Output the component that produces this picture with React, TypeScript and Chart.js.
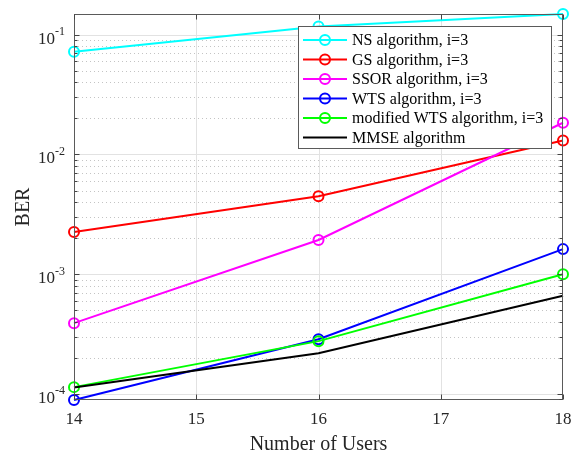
import React, { useEffect, useRef } from "react";
import { Chart, registerables } from "chart.js";

Chart.register(...registerables);

// Number of users on the x axis
const users = [14, 16, 18];

// Bit error rate per detector
const nsBer = [0.0722, 0.117, 0.149];
const gsBer = [0.00225, 0.00447, 0.0131];
const ssorBer = [0.00039, 0.00193, 0.0184];
const wtsBer = [0.000089, 0.000286, 0.00162];
const modWtsBer = [0.000114, 0.000276, 0.001];
const mmseBer = [0.000113, 0.000219, 0.00066];

const seriesLabels = [
  "NS algorithm, i=3",
  "GS algorithm, i=3",
  "SSOR algorithm, i=3",
  "WTS algorithm, i=3",
  "modified WTS algorithm, i=3",
  "MMSE algorithm",
];
const seriesColors = ["#00ffff", "#ff0000", "#ff00ff", "#0000ff", "#00ff00", "#000000"];
const seriesMarkers = [true, true, true, true, true, false];

const xTicks = [14, 15, 16, 17, 18];
const xMin = 14;
const xMax = 18;
const yMin = 8.9e-5;
const yMax = 0.149;
const yDecades = [-4, -3, -2, -1];

const serif = "'Liberation Serif', 'Times New Roman', serif";
const axisColor = "#262626";

const axesPlugin = {
  id: "boxedAxes",
  beforeDatasetsDraw(chart: any) {
    const { ctx, chartArea: a, scales } = chart;
    const xs = scales.x;
    const ys = scales.y;
    ctx.save();
    ctx.lineWidth = 1;

    // minor grid: dotted
    ctx.strokeStyle = "#c4c4c4";
    ctx.setLineDash([1, 3]);
    for (let d = -5; d <= 0; d++) {
      for (let m = 2; m <= 9; m++) {
        const v = m * Math.pow(10, d);
        if (v <= yMin || v >= yMax) continue;
        const py = Math.round(ys.getPixelForValue(v)) + 0.5;
        ctx.beginPath();
        ctx.moveTo(a.left, py);
        ctx.lineTo(a.right, py);
        ctx.stroke();
      }
    }

    // major grid: solid
    ctx.setLineDash([]);
    ctx.strokeStyle = "#e2e2e2";
    yDecades.forEach((d) => {
      const py = Math.round(ys.getPixelForValue(Math.pow(10, d))) + 0.5;
      ctx.beginPath();
      ctx.moveTo(a.left, py);
      ctx.lineTo(a.right, py);
      ctx.stroke();
    });
    xTicks.forEach((t) => {
      if (t === xMin || t === xMax) return;
      const px = Math.round(xs.getPixelForValue(t)) + 0.5;
      ctx.beginPath();
      ctx.moveTo(px, a.top);
      ctx.lineTo(px, a.bottom);
      ctx.stroke();
    });
    ctx.restore();
  },
  afterDatasetsDraw(chart: any) {
    const { ctx, chartArea: a, scales } = chart;
    const xs = scales.x;
    const ys = scales.y;
    ctx.save();

    // axes box
    ctx.strokeStyle = "#5a5a5a";
    ctx.lineWidth = 1;
    const L = Math.round(a.left) + 0.5;
    const R = Math.round(a.right) - 0.5;
    const T = Math.round(a.top) + 0.5;
    const B = Math.round(a.bottom) - 0.5;
    ctx.strokeRect(L, T, R - L, B - T);

    // y tick marks (inward, both sides)
    ctx.strokeStyle = "#444";
    for (let d = -5; d <= 0; d++) {
      for (let m = 1; m <= 9; m++) {
        const v = m * Math.pow(10, d);
        if (v <= yMin || v >= yMax) continue;
        const len = m === 1 ? 5 : 3;
        const py = Math.round(ys.getPixelForValue(v)) + 0.5;
        ctx.beginPath();
        ctx.moveTo(L, py);
        ctx.lineTo(L + len, py);
        ctx.moveTo(R, py);
        ctx.lineTo(R - len, py);
        ctx.stroke();
      }
    }
    // x tick marks (inward, top and bottom)
    xTicks.forEach((t) => {
      const px = Math.round(xs.getPixelForValue(t)) + 0.5;
      ctx.beginPath();
      ctx.moveTo(px, B);
      ctx.lineTo(px, B - 5);
      ctx.moveTo(px, T);
      ctx.lineTo(px, T + 5);
      ctx.stroke();
    });

    // x tick labels
    ctx.fillStyle = axisColor;
    ctx.font = `17px ${serif}`;
    ctx.textAlign = "center";
    ctx.textBaseline = "alphabetic";
    xTicks.forEach((t) => {
      ctx.fillText(String(t), xs.getPixelForValue(t), a.bottom + 24);
    });

    // y tick labels: 10 with superscript exponent
    yDecades.forEach((d) => {
      const py = ys.getPixelForValue(Math.pow(10, d));
      ctx.font = `17px ${serif}`;
      ctx.textAlign = "right";
      ctx.fillText("10", a.left - 19, py + 9);
      ctx.font = `12px ${serif}`;
      ctx.textAlign = "left";
      ctx.fillText(String(d), a.left - 19, py + 0.5);
    });

    // axis titles
    ctx.font = `20px ${serif}`;
    ctx.textAlign = "center";
    ctx.fillText("Number of Users", (a.left + a.right) / 2, a.bottom + 50);
    ctx.save();
    ctx.translate(29, (a.top + a.bottom) / 2);
    ctx.rotate(-Math.PI / 2);
    ctx.fillText("BER", 0, 0);
    ctx.restore();

    // legend
    const lx = 298.5;
    const ly = 26.5;
    const lw = 253;
    const lh = 122;
    ctx.fillStyle = "#ffffff";
    ctx.fillRect(lx, ly, lw, lh);
    ctx.strokeStyle = "#5a5a5a";
    ctx.lineWidth = 1;
    ctx.strokeRect(lx, ly, lw, lh);
    ctx.font = `16px ${serif}`;
    ctx.textAlign = "left";
    seriesLabels.forEach((label, i) => {
      const cy = 40 + i * 19.5;
      ctx.strokeStyle = seriesColors[i];
      ctx.lineWidth = 2;
      ctx.beginPath();
      ctx.moveTo(303, cy);
      ctx.lineTo(347, cy);
      ctx.stroke();
      if (seriesMarkers[i]) {
        ctx.beginPath();
        ctx.arc(325, cy, 5, 0, Math.PI * 2);
        ctx.stroke();
      }
      ctx.fillStyle = "#000";
      ctx.fillText(label, 352, cy + 5);
    });

    ctx.restore();
  },
};

export default function App() {
  const canvasRef = useRef<HTMLCanvasElement | null>(null);

  useEffect(() => {
    const canvas = canvasRef.current;
    if (!canvas) return;
    const series = [nsBer, gsBer, ssorBer, wtsBer, modWtsBer, mmseBer];
    const chart = new Chart(canvas, {
      type: "line",
      data: {
        datasets: series.map((vals, i) => ({
          label: seriesLabels[i],
          data: users.map((u, k) => ({ x: u, y: vals[k] })),
          borderColor: seriesColors[i],
          backgroundColor: "transparent",
          borderWidth: 2,
          pointRadius: seriesMarkers[i] ? 5 : 0,
          pointBorderWidth: 2,
          pointBorderColor: seriesColors[i],
          pointBackgroundColor: "transparent",
          pointStyle: "circle",
          tension: 0,
          fill: false,
          clip: false as any,
          order: series.length - i,
        })),
      },
      options: {
        animation: false,
        responsive: false,
        devicePixelRatio: 1,
        layout: { padding: { left: 74, right: 18, top: 14, bottom: 51 } },
        plugins: { legend: { display: false }, tooltip: { enabled: false } },
        scales: {
          x: { type: "linear", min: xMin, max: xMax, display: false },
          y: { type: "logarithmic", min: yMin, max: yMax, display: false },
        },
      },
      plugins: [axesPlugin],
    });
    return () => chart.destroy();
  }, []);

  return (
    <div style={{ position: "fixed", left: 0, top: 0, width: 581, height: 451, background: "#fff" }}>
      <canvas ref={canvasRef} width={581} height={451} style={{ display: "block" }} />
    </div>
  );
}
